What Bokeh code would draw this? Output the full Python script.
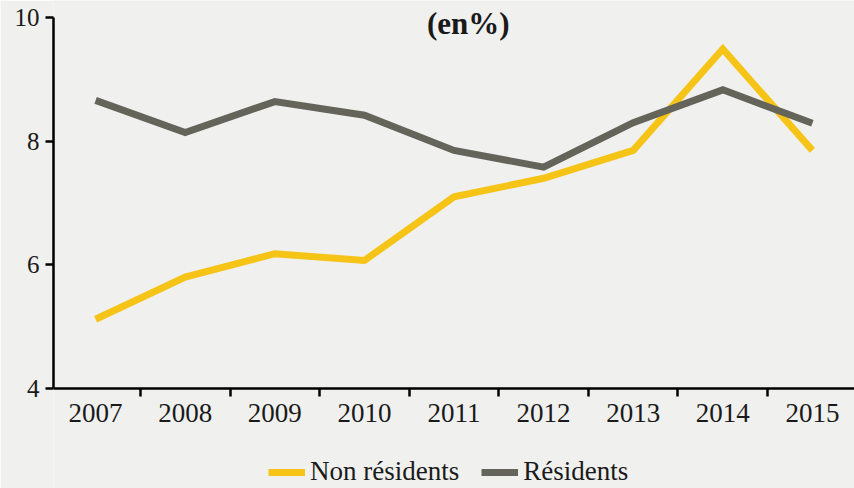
from bokeh.plotting import figure
from bokeh.models import FixedTicker, Legend, LegendItem, Label, Range1d
from bokeh.embed import file_html
from bokeh.resources import INLINE

years = [2007, 2008, 2009, 2010, 2011, 2012, 2013, 2014, 2015]
non_residents = [5.12, 5.80, 6.18, 6.07, 7.10, 7.40, 7.85, 9.49, 7.85]
residents = [8.66, 8.14, 8.64, 8.42, 7.85, 7.58, 8.30, 8.83, 8.29]
y_ticks = [4, 6, 8, 10]
title_text = "(en%)"
series_names = ["Non résidents", "Résidents"]

FONT = "Liberation Serif"
BG = "#f0f0ee"
YELLOW = "#f5c416"
GREY = "#64645a"

p = figure(width=854, height=488, output_backend="svg", toolbar_location=None,
           x_range=Range1d(2006.53, 2015.47), y_range=Range1d(2.382, 10.275),
           min_border_left=53, min_border_right=0, min_border_top=0, min_border_bottom=0)
p.background_fill_color = BG
p.border_fill_color = BG
p.outline_line_color = None
p.xgrid.visible = False
p.ygrid.visible = False

r_non = p.line(years, non_residents, line_color=YELLOW, line_width=7, line_join="miter")
r_res = p.line(years, residents, line_color=GREY, line_width=7, line_join="miter")

# x axis drawn at y = 4, labels at category centres, ticks at boundaries
p.xaxis.fixed_location = 4
p.xaxis.ticker = FixedTicker(ticks=years, minor_ticks=[y + 0.5 for y in [years[0] - 1] + years])
p.xaxis.major_tick_out = 0
p.xaxis.major_tick_in = 0
p.xaxis.minor_tick_out = 8
p.xaxis.minor_tick_in = 0
p.xaxis.minor_tick_line_color = "black"
p.xaxis.minor_tick_line_width = 2.5
p.xaxis.axis_line_width = 2.5
p.xaxis.axis_line_color = "black"
p.xaxis.major_label_standoff = 8
p.xaxis.major_label_text_font = FONT
p.xaxis.major_label_text_font_size = "27px"
p.xaxis.major_label_text_color = "#1a1a1a"

p.yaxis.bounds = (4, 10)
p.yaxis.ticker = FixedTicker(ticks=y_ticks, minor_ticks=[])
p.yaxis.major_tick_out = 8
p.yaxis.major_tick_in = 0
p.yaxis.major_tick_line_width = 2.5
p.yaxis.major_tick_line_color = "black"
p.yaxis.minor_tick_out = 0
p.yaxis.axis_line_width = 2.5
p.yaxis.axis_line_color = "black"
p.yaxis.major_label_standoff = 6
p.yaxis.major_label_text_font = FONT
p.yaxis.major_label_text_font_size = "25px"
p.yaxis.major_label_text_color = "#1a1a1a"

title = Label(x=2011.16, y=9.90, text=title_text, text_align="center",
              text_baseline="alphabetic", text_font=FONT, text_font_size="31px",
              text_font_style="bold", text_color="#1a1a1a")
p.add_layout(title)

legend = Legend(items=[LegendItem(label=series_names[0], renderers=[r_non]),
                       LegendItem(label=series_names[1], renderers=[r_res])],
                location=(215, 1), orientation="horizontal",
                glyph_width=37, glyph_height=20, label_height=20,
                label_standoff=5, spacing=22, padding=0, margin=0,
                border_line_color=None, background_fill_alpha=0,
                label_text_font=FONT, label_text_font_size="27px",
                label_text_color="#1a1a1a")
p.add_layout(legend, "center")

open("out.html", "w").write(file_html(p, INLINE))
